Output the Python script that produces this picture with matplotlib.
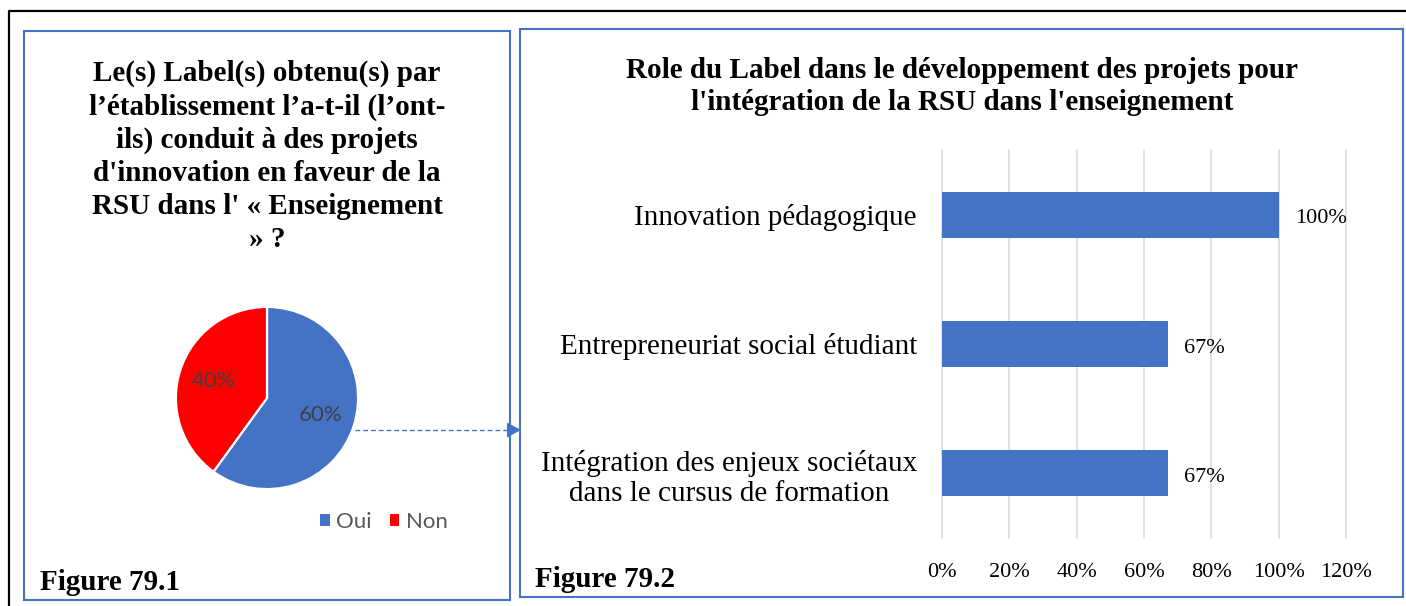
import matplotlib
matplotlib.use("Agg")
import matplotlib.pyplot as plt
from matplotlib.patches import Rectangle, Polygon, Patch
from matplotlib.lines import Line2D
from matplotlib.ticker import PercentFormatter

# ---- Figure 79.1 : pie ----
pie_labels = ["Oui", "Non"]
pie_shares = [0.60, 0.40]
pie_colors = ["#4472C4", "#FF0000"]
title_left = [
    "Le(s) Label(s) obtenu(s) par",
    "l’établissement l’a-t-il (l’ont-",
    "ils) conduit à des projets",
    "d'innovation en faveur de la",
    "RSU dans l' « Enseignement",
    "» ?",
]

# ---- Figure 79.2 : horizontal bars ----
roles = [
    "Innovation pédagogique",
    "Entrepreneuriat social étudiant",
    "Intégration des enjeux sociétaux\ndans le cursus de formation",
]
role_shares = [1.00, 0.67, 0.67]
x_ticks = [0.0, 0.2, 0.4, 0.6, 0.8, 1.0, 1.2]
title_right = [
    "Role du Label dans le développement des projets pour",
    "l'intégration de la RSU dans l'enseignement",
]

BLUE = "#4472C4"
SERIF = "Liberation Serif"
SANS = "Lato"

W, H = 1406, 606


def fx(x):
    return x / W


def fy(y):
    return 1 - y / H


fig = plt.figure(figsize=(W / 100, H / 100), dpi=100)

# page frame (top and left rules)
fig.add_artist(Line2D([fx(9), fx(9), fx(1406)], [fy(606), fy(11), fy(11)],
                      color="black", lw=1.6, transform=fig.transFigure))

# panel boxes
for x0, y0, x1, y1 in [(24, 31, 510, 600), (520, 29, 1403, 597)]:
    fig.add_artist(Rectangle((fx(x0), fy(y1)), fx(x1) - fx(x0), fy(y0) - fy(y1),
                             fill=False, ec=BLUE, lw=1.5, transform=fig.transFigure))

# ---- left panel ----
for i, line in enumerate(title_left):
    fig.text(fx(267), fy(81 + 33.2 * i), line, ha="center", va="baseline",
             fontsize=21, weight="bold", family=SERIF)

ax1 = fig.add_axes([fx(267 - 92), fy(398 + 92), 184 / W, 184 / H])
wedges, texts, autotexts = ax1.pie(
    pie_shares, colors=pie_colors, startangle=90, counterclock=False,
    autopct=lambda p: f"{p:.0f}%", pctdistance=0.62,
    wedgeprops=dict(edgecolor="white", linewidth=1.6),
    textprops=dict(color="#404040", fontsize=16, family=SANS),
)
ax1.set_xlim(-1.01, 1.01)
ax1.set_ylim(-1.01, 1.01)

fig.legend(handles=[Patch(fc=c, ec="none", label=l) for c, l in zip(pie_colors, pie_labels)],
           loc="center", bbox_to_anchor=(fx(384), fy(522)), ncol=2, frameon=False,
           handlelength=0.42, handleheight=0.42, handletextpad=0.3, columnspacing=0.8,
           prop=dict(family=SANS, size=16), labelcolor="#595959")

# dashed connector towards the right panel
fig.add_artist(Line2D([fx(355), fx(507)], [fy(430), fy(430)], color=BLUE, lw=1.0,
                      ls=(0, (3.4, 2.2)), transform=fig.transFigure))
fig.add_artist(Polygon([(fx(507), fy(422.5)), (fx(521), fy(430)), (fx(507), fy(437.5))],
                       closed=True, fc=BLUE, ec="none", transform=fig.transFigure))

fig.text(fx(40), fy(590), "Figure 79.1", ha="left", va="baseline",
         fontsize=21, weight="bold", family=SERIF)

# ---- right panel ----
for i, line in enumerate(title_right):
    fig.text(fx(962), fy(78 + 32.5 * i), line, ha="center", va="baseline",
             fontsize=21, weight="bold", family=SERIF)

ax2 = fig.add_axes([fx(942), fy(538), fx(1346) - fx(942), fy(150) - fy(538)])
ypos = list(range(len(roles)))
ax2.barh(ypos, role_shares, height=0.356, color=BLUE, zorder=3)
ax2.set_xlim(0, 1.2)
ax2.set_ylim(2.5, -0.5)
ax2.set_xticks(x_ticks)
ax2.xaxis.set_major_formatter(PercentFormatter(1.0, decimals=0))
ax2.set_yticks(ypos, roles)
for lab in ax2.get_yticklabels():
    lab.set_multialignment("center")
    lab.set_family(SERIF)
for lab in ax2.get_xticklabels():
    lab.set_family(SERIF)
ax2.tick_params(axis="x", length=0, pad=18, labelsize=16)
ax2.tick_params(axis="y", length=0, pad=18, labelsize=21)
ax2.grid(axis="x", color="#d9d9d9", lw=1.1)
ax2.grid(axis="y", visible=False)
for gl in ax2.get_xgridlines():
    gl.set_clip_on(False)
for s in ax2.spines.values():
    s.set_visible(False)

for yi, v in zip(ypos, role_shares):
    ax2.annotate(f"{v:.0%}", (v, yi), xytext=(12, -3), textcoords="offset points",
                 va="center", ha="left", fontsize=16, family=SERIF, zorder=4)

fig.text(fx(535), fy(587), "Figure 79.2", ha="left", va="baseline",
         fontsize=21, weight="bold", family=SERIF)

fig.savefig("out.png", dpi=100)
